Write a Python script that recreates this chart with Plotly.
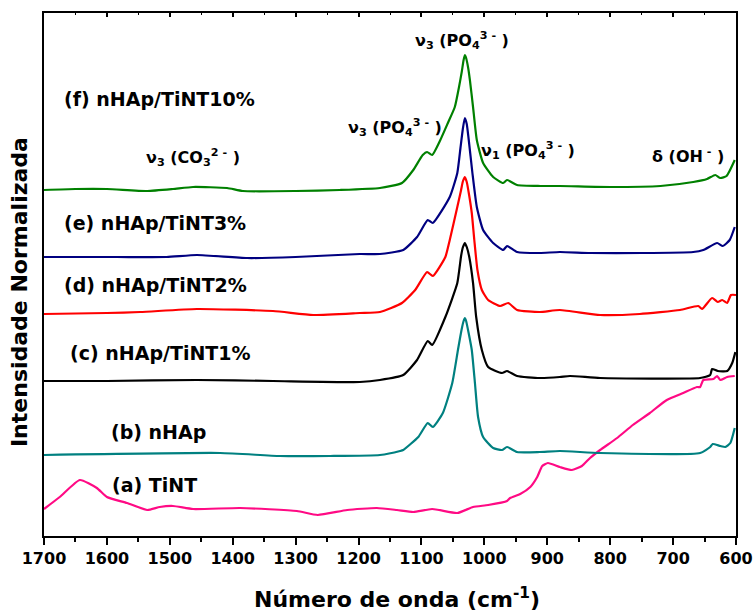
import plotly.graph_objects as go

# FTIR spectra, stacked; intensities in arbitrary units (offsets included)
wn_a = [1700, 1675, 1643, 1616, 1600, 1568, 1536, 1516, 1495, 1463, 1388, 1298, 1265, 1218, 1171,
        1139, 1113, 1083, 1043, 1018, 994, 964, 959, 943, 927, 916, 908, 899, 880, 861, 845, 832,
        816, 789, 764, 737, 710, 684, 662, 657, 652, 636, 630, 625, 614, 602]
int_a = [27, 39, 56, 48, 39, 33, 26, 29, 30, 27, 28, 25, 21, 26, 28,
         26, 24, 27, 23, 29, 31, 35, 38, 42, 49, 59, 70, 73, 69, 66, 70, 78,
         86, 98, 111, 123, 136, 143, 149, 149, 156, 157, 160, 156, 159, 160]

wn_b = [1700, 1420, 1325, 1245, 1166, 1134, 1129, 1105, 1090, 1082, 1066, 1051, 1042, 1036, 1033, 1031,
        1029, 1025, 1020, 1015, 1010, 1002, 986, 972, 964, 948, 912, 880, 816, 657, 641, 637, 625, 617, 609, 602]
int_b = [81, 83, 80, 80, 81, 85, 86, 99, 113, 109, 123, 153, 186, 207, 215, 218,
         215, 203, 186, 153, 119, 99, 88, 86, 89, 84, 84, 85, 83, 83, 89, 92, 90, 89, 93, 108]

wn_c = [1700, 1600, 1457, 1336, 1198, 1166, 1129, 1107, 1090, 1083, 1062, 1043, 1037, 1034, 1031,
        1028, 1024, 1018, 1013, 1004, 994, 972, 964, 948, 912, 880, 864, 816, 657, 641, 638, 629, 614, 606, 601]
int_c = [155, 155, 156, 155, 154, 156, 161, 176, 195, 191, 219, 253, 280, 289, 293,
         289, 279, 253, 219, 186, 169, 163, 165, 160, 158, 159, 160, 158, 158, 161, 167, 165, 165, 173, 184]

wn_d = [1700, 1600, 1547, 1457, 1336, 1272, 1198, 1166, 1131, 1110, 1091, 1082, 1062, 1055, 1043,
        1037, 1034, 1031, 1028, 1024, 1020, 1016, 1011, 1004, 994, 975, 962, 948, 912, 880, 816, 753,
        689, 660, 654, 638, 629, 622, 614, 608, 600]
int_d = [222, 223, 224, 227, 225, 221, 223, 224, 233, 246, 264, 260, 279, 296, 329,
         346, 355, 359, 354, 340, 323, 296, 266, 246, 236, 230, 233, 226, 224, 226, 221, 222,
         226, 230, 227, 238, 234, 236, 233, 241, 241]

wn_e = [1700, 1584, 1505, 1457, 1377, 1300, 1198, 1166, 1129, 1107, 1090, 1082, 1055, 1043, 1038,
        1034, 1031, 1028, 1025, 1019, 1012, 1002, 986, 970, 964, 948, 912, 880, 832, 750, 668, 652,
        630, 621, 610, 602]
int_e = [279, 279, 279, 281, 278, 279, 282, 282, 286, 299, 316, 313, 339, 363, 388,
         408, 418, 412, 397, 363, 329, 306, 293, 286, 290, 284, 283, 284, 283, 283, 284, 286,
         293, 290, 296, 309]

wn_f = [1700, 1650, 1600, 1536, 1495, 1463, 1409, 1384, 1300, 1230, 1166, 1131, 1113, 1098, 1091,
        1083, 1070, 1058, 1047, 1040, 1036, 1033, 1031, 1029, 1026, 1023, 1018, 1012, 1002, 986,
        970, 964, 948, 911, 880, 800, 720, 668, 646, 633, 625, 615, 602]
int_f = [346, 347, 347, 345, 347, 349, 348, 345, 345, 346, 348, 353, 366, 381, 384,
         381, 396, 413, 429, 450, 464, 476, 481, 478, 469, 456, 429, 396, 373, 359,
         353, 356, 351, 350, 350, 349, 350, 354, 357, 361, 358, 360, 376]

series = [
    ("(a) TiNT", wn_a, int_a, "#ff0a84"),
    ("(b) nHAp", wn_b, int_b, "#008080"),
    ("(c) nHAp/TiNT1%", wn_c, int_c, "#000000"),
    ("(d) nHAp/TiNT2%", wn_d, int_d, "#ff0000"),
    ("(e) nHAp/TiNT3%", wn_e, int_e, "#000080"),
    ("(f) nHAp/TiNT10%", wn_f, int_f, "#008000"),
]

# curve labels: (text, wavenumber of left edge, intensity level)
curve_labels = [
    ("(a) TiNT", 1595, 51),
    ("(b) nHAp", 1596, 104),
    ("(c) nHAp/TiNT1%", 1662, 183),
    ("(d) nHAp/TiNT2%", 1671, 251),
    ("(e) nHAp/TiNT3%", 1671, 313),
    ("(f) nHAp/TiNT10%", 1672, 437),
]

# vibrational band assignments: (text, wavenumber of centre, intensity level)
band_labels = [
    ("ν<sub>3</sub> (CO<sub>3</sub><sup>2 -</sup> )", 1463, 379),
    ("ν<sub>3</sub> (PO<sub>4</sub><sup>3 -</sup> )", 1142, 409),
    ("ν<sub>3</sub> (PO<sub>4</sub><sup>3 -</sup> )", 1035, 496),
    ("ν<sub>1</sub> (PO<sub>4</sub><sup>3 -</sup> )", 931, 386),
    ("δ (OH<sup> -</sup> )", 676, 381),
]

FONT = "DejaVu Sans"

fig = go.Figure()
for name, wn, inten, color in series:
    fig.add_trace(go.Scatter(
        x=wn, y=inten, mode="lines", name=name,
        line=dict(color=color, width=2.2, shape="spline", smoothing=0.5),
        showlegend=False, hoverinfo="skip",
    ))

# secondary top axis carrying the inward-pointing mirror ticks
fig.add_trace(go.Scatter(x=[], y=[], xaxis="x2", showlegend=False))

for text, x, y in curve_labels:
    fig.add_annotation(x=x, y=y, xref="x", yref="y", text=text, showarrow=False,
                       xanchor="left", yanchor="middle",
                       font=dict(family=FONT, size=19, color="black", weight="bold"))

for text, x, y in band_labels:
    fig.add_annotation(x=x, y=y, xref="x", yref="y", text=text, showarrow=False,
                       xanchor="center", yanchor="middle",
                       font=dict(family=FONT, size=16, color="black", weight="bold"))

# axis titles
fig.add_annotation(x=0.51, y=-0.118, xref="paper", yref="paper",
                   text="Número de onda (cm<sup>-1</sup>)", showarrow=False,
                   xanchor="center", yanchor="middle",
                   font=dict(family=FONT, size=22, color="black", weight="bold"))
fig.add_annotation(x=-0.035, y=0.466, xref="paper", yref="paper",
                   text="Intensidade Normalizada", showarrow=False, textangle=-90,
                   xanchor="center", yanchor="middle",
                   font=dict(family=FONT, size=22, color="black", weight="bold"))

fig.update_layout(
    width=754, height=615,
    margin=dict(l=44, r=18, t=13, b=79),
    paper_bgcolor="white", plot_bgcolor="white",
    xaxis=dict(
        range=[1700, 600], dtick=100, tick0=600,
        showline=True, linecolor="black", linewidth=2, mirror=True,
        ticks="outside", ticklen=7, tickwidth=2, tickcolor="black",
        minor=dict(ticks="outside", ticklen=4, tickwidth=1.5, dtick=50, tickcolor="black"),
        showgrid=False, zeroline=False,
        tickfont=dict(family=FONT, size=16, color="black", weight="bold"),
        automargin=False,
    ),
    xaxis2=dict(
        overlaying="x", side="top", range=[1700, 600], dtick=100, tick0=600,
        showline=False, ticks="inside", ticklen=4, tickwidth=1.5, tickcolor="black",
        minor=dict(ticks="inside", ticklen=2, tickwidth=1, dtick=50, tickcolor="black"),
        showticklabels=False, showgrid=False, zeroline=False,
    ),
    yaxis=dict(
        range=[0, 523], showline=True, linecolor="black", linewidth=2, mirror=True,
        ticks="", showticklabels=False, showgrid=False, zeroline=False,
        automargin=False,
    ),
)

fig.write_html("out.html")
